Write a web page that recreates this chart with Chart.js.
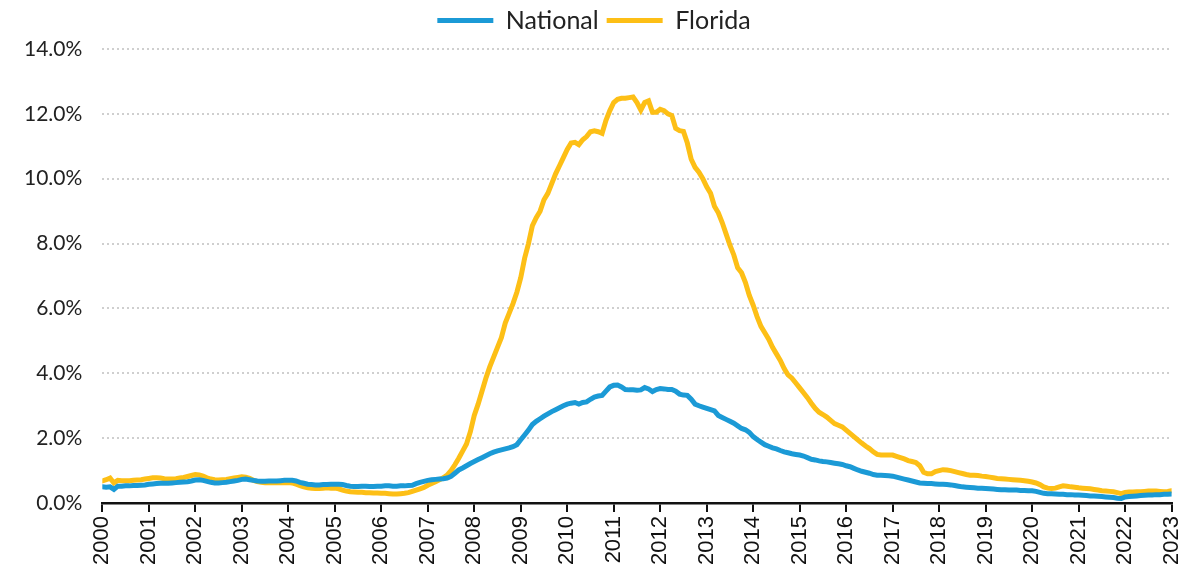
<!DOCTYPE html>
<html>
<head>
<meta charset="utf-8">
<script src="https://cdn.jsdelivr.net/npm/chart.js@4"></script>
<style>
html,body{margin:0;padding:0;background:#fff;}
#wrap{width:1202px;height:575px;position:relative;}
</style>
</head>
<body>
<div id="wrap"><canvas id="c" width="1202" height="575"></canvas></div>
<script>
// Monthly series, Jan 2000 .. Jan 2023 (percent)
const startYear = 2000;
const endYear = 2023;
const seriesNames = ["National", "Florida"];
const national = [
  0.50,0.49,0.50,0.42,0.52,0.52,0.53,0.53,0.54,0.54,0.55,0.56,
  0.58,0.59,0.60,0.61,0.61,0.61,0.62,0.63,0.64,0.65,0.66,0.68,
  0.71,0.72,0.70,0.67,0.64,0.62,0.62,0.63,0.64,0.66,0.68,0.70,
  0.73,0.74,0.72,0.70,0.68,0.67,0.67,0.68,0.68,0.68,0.69,0.70,
  0.70,0.70,0.68,0.64,0.61,0.58,0.57,0.56,0.56,0.57,0.57,0.58,
  0.58,0.58,0.57,0.54,0.52,0.51,0.51,0.52,0.52,0.51,0.51,0.52,
  0.52,0.53,0.53,0.52,0.52,0.53,0.53,0.54,0.55,0.60,0.64,0.67,
  0.70,0.72,0.73,0.74,0.75,0.77,0.82,0.92,1.02,1.08,1.15,1.22,
  1.28,1.34,1.40,1.46,1.52,1.57,1.61,1.64,1.67,1.70,1.74,1.80,
  1.95,2.10,2.25,2.42,2.52,2.60,2.68,2.75,2.82,2.88,2.94,3.00,
  3.05,3.08,3.10,3.05,3.10,3.12,3.20,3.27,3.30,3.32,3.45,3.58,
  3.63,3.64,3.58,3.50,3.49,3.49,3.48,3.49,3.56,3.52,3.44,3.50,
  3.53,3.52,3.50,3.50,3.45,3.36,3.33,3.32,3.20,3.05,3.00,2.96,
  2.92,2.88,2.84,2.70,2.64,2.58,2.52,2.46,2.38,2.30,2.26,2.18,
  2.05,1.96,1.88,1.80,1.75,1.70,1.67,1.62,1.58,1.55,1.52,1.50,
  1.48,1.45,1.40,1.35,1.33,1.30,1.28,1.27,1.25,1.23,1.21,1.19,
  1.15,1.12,1.07,1.02,0.98,0.95,0.92,0.88,0.86,0.86,0.85,0.84,
  0.83,0.80,0.77,0.74,0.71,0.68,0.65,0.62,0.61,0.60,0.60,0.59,
  0.58,0.58,0.57,0.56,0.54,0.52,0.50,0.49,0.48,0.47,0.46,0.46,
  0.45,0.44,0.43,0.42,0.41,0.41,0.40,0.40,0.40,0.39,0.39,0.38,
  0.38,0.36,0.33,0.30,0.29,0.29,0.28,0.27,0.27,0.26,0.26,0.25,
  0.25,0.24,0.23,0.22,0.22,0.21,0.20,0.19,0.18,0.17,0.15,0.14,
  0.19,0.20,0.21,0.22,0.23,0.24,0.25,0.25,0.26,0.26,0.27,0.27,
  0.28
];
const florida = [
  0.68,0.72,0.77,0.62,0.70,0.69,0.69,0.69,0.70,0.71,0.72,0.74,
  0.76,0.78,0.78,0.77,0.75,0.74,0.74,0.75,0.77,0.79,0.82,0.85,
  0.88,0.87,0.83,0.78,0.74,0.72,0.71,0.72,0.73,0.75,0.77,0.79,
  0.81,0.80,0.76,0.70,0.66,0.64,0.63,0.63,0.63,0.63,0.63,0.63,
  0.63,0.62,0.58,0.54,0.50,0.47,0.46,0.45,0.45,0.46,0.47,0.46,
  0.46,0.44,0.40,0.37,0.35,0.34,0.33,0.33,0.32,0.32,0.31,0.31,
  0.30,0.30,0.29,0.28,0.28,0.29,0.30,0.32,0.36,0.40,0.44,0.48,
  0.55,0.60,0.66,0.72,0.78,0.86,1.00,1.18,1.38,1.60,1.82,2.20,
  2.70,3.05,3.45,3.85,4.20,4.50,4.80,5.10,5.55,5.85,6.15,6.50,
  6.95,7.55,8.00,8.55,8.80,9.00,9.35,9.55,9.85,10.15,10.40,10.65,
  10.90,11.10,11.12,11.05,11.20,11.30,11.45,11.48,11.45,11.40,11.80,12.10,
  12.35,12.45,12.48,12.48,12.50,12.52,12.35,12.12,12.35,12.40,12.05,12.05,
  12.14,12.10,12.00,11.95,11.55,11.48,11.46,11.10,10.60,10.35,10.20,10.00,
  9.75,9.55,9.15,8.95,8.65,8.30,7.95,7.65,7.25,7.10,6.80,6.40,
  6.10,5.75,5.45,5.25,5.05,4.80,4.60,4.40,4.15,3.95,3.85,3.70,
  3.55,3.40,3.25,3.08,2.92,2.80,2.73,2.65,2.55,2.45,2.40,2.35,
  2.25,2.15,2.05,1.95,1.85,1.76,1.68,1.58,1.50,1.48,1.48,1.48,
  1.48,1.44,1.40,1.36,1.31,1.28,1.25,1.15,0.95,0.90,0.90,0.97,
  1.00,1.03,1.02,1.00,0.97,0.94,0.91,0.88,0.86,0.86,0.85,0.83,
  0.82,0.80,0.78,0.76,0.75,0.74,0.73,0.72,0.71,0.70,0.69,0.67,
  0.65,0.62,0.57,0.50,0.46,0.45,0.46,0.50,0.53,0.52,0.50,0.49,
  0.47,0.46,0.45,0.44,0.42,0.40,0.38,0.37,0.36,0.35,0.32,0.29,
  0.33,0.34,0.34,0.35,0.35,0.36,0.37,0.37,0.37,0.36,0.35,0.36,
  0.38
];
const yTicks = [0, 2, 4, 6, 8, 10, 12, 14];

const toPoints = arr => arr.map((v, i) => ({ x: startYear + i / 12, y: v }));

const legendGap = {
  id: 'legendGap',
  beforeInit(chart) {
    const origFit = chart.legend.fit;
    chart.legend.fit = function () {
      origFit.call(this);
      this.height += 6;
    };
  }
};

new Chart(document.getElementById('c'), {
  type: 'line',
  plugins: [legendGap],
  data: {
    datasets: [
      { label: seriesNames[0], data: toPoints(national), borderColor: '#1b9ad6', backgroundColor: '#1b9ad6',
        borderWidth: 5, pointRadius: 0, tension: 0, pointStyle: 'line', borderCapStyle: 'round' },
      { label: seriesNames[1], data: toPoints(florida), borderColor: '#fdbf16', backgroundColor: '#fdbf16',
        borderWidth: 5, pointRadius: 0, tension: 0, pointStyle: 'line', borderCapStyle: 'round' }
    ]
  },
  options: {
    responsive: false,
    animation: false,
    devicePixelRatio: 1,
    layout: { padding: { left: 4, right: 18, top: 0, bottom: 6 } },
    plugins: {
      legend: {
        position: 'top',
        labels: {
          usePointStyle: true,
          pointStyleWidth: 56,
          font: { family: 'Lato', size: 25 },
          color: '#222',
          padding: 8
        }
      },
      tooltip: { enabled: false }
    },
    scales: {
      x: {
        type: 'linear',
        min: startYear,
        max: endYear,
        ticks: {
          stepSize: 1,
          autoSkip: false,
          minRotation: 90,
          maxRotation: 90,
          color: '#111',
          font: { family: 'Liberation Sans', size: 22 },
          padding: 4,
          callback: v => String(v)
        },
        grid: { drawOnChartArea: false, drawTicks: true, tickLength: 9, color: '#111', lineWidth: 2 },
        border: { display: true, color: '#111', width: 2.5 }
      },
      y: {
        min: 0,
        max: 14,
        afterBuildTicks: s => { s.ticks = yTicks.map(v => ({ value: v })); },
        ticks: {
          color: '#222',
          font: { family: 'Lato', size: 21 },
          padding: 20,
          callback: v => v.toFixed(1) + '%'
        },
        grid: { drawTicks: false, color: '#cfcfcf', lineWidth: 2 },
        border: { display: false, dash: [2, 3] }
      }
    }
  }
});
</script>
</body>
</html>
